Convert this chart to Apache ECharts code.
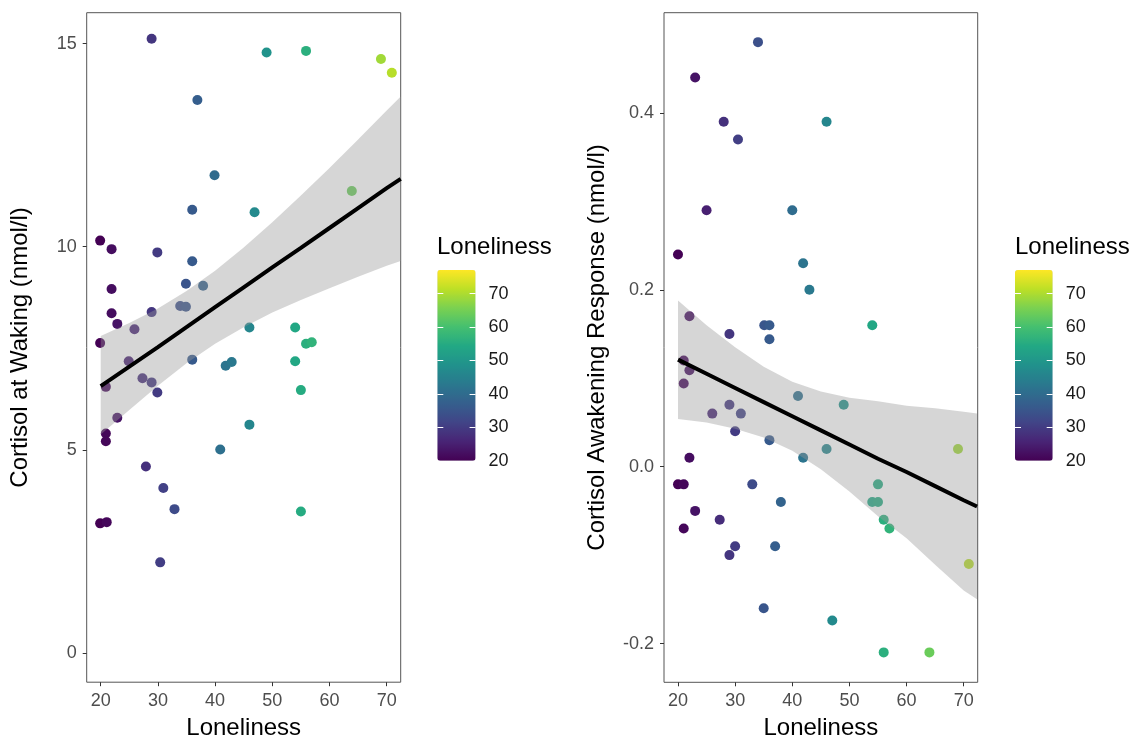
<!DOCTYPE html>
<html><head><meta charset="utf-8">
<script src="https://cdn.jsdelivr.net/npm/echarts@6/dist/echarts.min.js"></script>
<style>html,body{margin:0;padding:0;background:#fff}#c{width:1135px;height:739px}</style>
</head><body><div id="c"></div>
<script>
// ---- data ----
const leftX = [28.9,49,55.9,69,70.9,36.9,39.9,63.9,36,46.9,19.9,21.9,29.9,36,34.9,37.9,21.9,33.9,34.9,21.9,28.9,22.9,25.9,46,54,55.9,56.9,19.9,24.9,36,41.85,42.9,54,20.9,27.3,28.9,29.9,55,22.9,46,20.9,20.9,40.9,27.9,30.95,32.9,55,19.9,21.05,30.4];
const leftY = [15.12,14.78,14.82,14.62,14.28,13.61,11.76,11.37,10.91,10.85,10.15,9.94,9.86,9.64,9.09,9.04,8.96,8.54,8.52,8.36,8.39,8.10,7.97,8.01,8.01,7.61,7.65,7.63,7.18,7.22,7.07,7.16,7.18,6.55,6.76,6.66,6.41,6.47,5.79,5.62,5.40,5.21,5.01,4.59,4.06,3.54,3.48,3.19,3.22,2.23];
const rightX = [34,23,28,46,30.5,25,40,20,41.9,43,22,29,35.1,36,54,36,21,22,21,41,29,49,26,31,30,36,46,69,22,41.9,20,21,33,55,38,54,55,23,27.3,56,57,21,30,37,29,70.9,35,47,56,64];
const rightY = [0.48,0.44,0.39,0.39,0.37,0.29,0.29,0.24,0.23,0.20,0.17,0.15,0.16,0.16,0.16,0.144,0.12,0.109,0.094,0.08,0.07,0.07,0.06,0.06,0.04,0.03,0.02,0.02,0.01,0.01,-0.02,-0.02,-0.02,-0.02,-0.04,-0.04,-0.04,-0.05,-0.06,-0.06,-0.07,-0.07,-0.09,-0.09,-0.10,-0.11,-0.16,-0.174,-0.21,-0.21];

// smoother (fit + confidence band)
const bandLX    = [20,25,30,35,40,45,50,55,60,65,70,72.45];
const bandLFit  = [6.57,7.05,7.53,8.02,8.51,9.00,9.49,9.97,10.46,10.95,11.44,11.67];
const bandLLow  = [5.38,5.98,6.58,7.13,7.61,8.02,8.38,8.69,8.98,9.26,9.53,9.65];
const bandLHigh = [7.80,8.12,8.48,8.91,9.41,9.98,10.60,11.26,11.94,12.64,13.35,13.70];
const bandRX    = [20,25,30,35,40,45,50,55,60,65,70,72.33];
const bandRFit  = [0.121,0.105,0.089,0.073,0.057,0.041,0.025,0.009,-0.006,-0.022,-0.038,-0.045];
const bandRLow  = [0.054,0.050,0.043,0.033,0.018,-0.003,-0.028,-0.056,-0.081,-0.111,-0.140,-0.150];
const bandRHigh = [0.188,0.160,0.135,0.113,0.096,0.085,0.078,0.074,0.069,0.066,0.062,0.060];

const xTicks = [20,30,40,50,60,70];
const leftYTicks = [0,5,10,15];
const rightYTicks = [-0.2,0,0.2,0.4];
const legendTicks = [20,30,40,50,60,70];
const legendInnerTicks = [30,40,50,60,70];
const colorMin = 20, colorMax = 77.1;
const viridis = ['#440154','#482475','#414487','#355F8D','#2A788E','#21918C','#22A884','#44BF70','#7AD151','#BDDF26','#FDE725'];

// ---- chart ----
const FONT = '"Liberation Sans", Arial, Helvetica, sans-serif';
const pairs = (a,b) => a.map((v,i)=>[v,b[i]]);
const triples = (a,b,c) => a.map((v,i)=>[v,b[i],c[i]]);

function bandRender(rows){
  return function(params, api){
    if (params.dataIndex !== 0) return null;
    const pts = [];
    for (let i=0;i<rows.length;i++) pts.push(api.coord([rows[i][0], rows[i][2]]));
    for (let i=rows.length-1;i>=0;i--) pts.push(api.coord([rows[i][0], rows[i][1]]));
    return {type:'polygon', shape:{points:pts}, style:{fill:'rgba(153,153,153,0.4)'}};
  };
}

const tickLabel = {color:'#4D4D4D', fontSize:18, fontFamily:FONT};
const titleStyle = {fontSize:24, color:'#000', fontFamily:FONT};
function mainX(gi){
  return {type:'value', gridIndex:gi, min:17.55, max:72.45,
    name:'Loneliness', nameLocation:'middle', nameGap:34,
    nameTextStyle:titleStyle,
    axisLine:{show:false, onZero:false}, splitLine:{show:false},
    axisTick:{show:true, length:4, lineStyle:{color:'#333'}, customValues:xTicks},
    axisLabel:Object.assign({margin:10, customValues:xTicks}, tickLabel)};
}
function legendAxes(gi){
  return [
    {type:'value', gridIndex:gi, position:'right', min:colorMin, max:colorMax, z:10,
      axisLine:{show:false, onZero:false}, splitLine:{show:false},
      axisTick:{show:true, inside:true, length:6, lineStyle:{color:'#fff', width:1}, customValues:legendInnerTicks},
      axisLabel:{margin:13, customValues:legendTicks, color:'#1A1A1A', fontSize:18, fontFamily:FONT}},
    {type:'value', gridIndex:gi, position:'left', min:colorMin, max:colorMax, z:10,
      axisLine:{show:false, onZero:false}, splitLine:{show:false},
      axisTick:{show:true, inside:true, length:6, lineStyle:{color:'#fff', width:1}, customValues:legendInnerTicks},
      axisLabel:{show:false}}
  ];
}

const option = {
  animation:false,
  backgroundColor:'#fff',
  textStyle:{fontFamily:FONT},
  grid:[
    {left:86.7, top:12.7, width:314, height:669.5, show:true, borderColor:'#555', borderWidth:1, backgroundColor:'transparent', outerBoundsMode:'none', containLabel:false},
    {left:664, top:12.7, width:313.7, height:669.6, show:true, borderColor:'#555', borderWidth:1, backgroundColor:'transparent', outerBoundsMode:'none', containLabel:false},
    {left:437.3, top:270, width:38.3, height:190.7, outerBoundsMode:'none', containLabel:false},
    {left:1015, top:270, width:37.7, height:190.7, outerBoundsMode:'none', containLabel:false}
  ],
  xAxis:[
    mainX(0), mainX(1),
    {type:'value', gridIndex:2, show:false, min:0, max:1},
    {type:'value', gridIndex:3, show:false, min:0, max:1}
  ],
  yAxis:[
    {type:'value', gridIndex:0, min:-0.72, max:15.76,
      name:'Cortisol at Waking (nmol/l)', nameLocation:'middle', nameGap:54,
      nameTextStyle:titleStyle,
      axisLine:{show:false, onZero:false}, splitLine:{show:false},
      axisTick:{show:true, length:4, lineStyle:{color:'#333'}, customValues:leftYTicks},
      axisLabel:Object.assign({margin:10, customValues:leftYTicks}, tickLabel)},
    {type:'value', gridIndex:1, min:-0.2438, max:0.5133,
      name:'Cortisol Awakening Response (nmol/l)', nameLocation:'middle', nameGap:55,
      nameTextStyle:titleStyle,
      axisLine:{show:false, onZero:false}, splitLine:{show:false},
      axisTick:{show:true, length:4, lineStyle:{color:'#333'}, customValues:rightYTicks},
      axisLabel:Object.assign({margin:10, customValues:rightYTicks, formatter:v=>Number(v).toFixed(1)}, tickLabel)},
    ...legendAxes(2), ...legendAxes(3)
  ],
  visualMap:[
    {type:'continuous', seriesIndex:0, dimension:0, min:colorMin, max:colorMax, calculable:false,
      inRange:{color:viridis}, orient:'vertical', left:437.3, top:270, itemWidth:38.3, itemHeight:190.7,
      padding:0, text:null, showLabel:false},
    {type:'continuous', seriesIndex:3, dimension:0, min:colorMin, max:colorMax, calculable:false,
      inRange:{color:viridis}, orient:'vertical', left:1015, top:270, itemWidth:37.7, itemHeight:190.7,
      padding:0, text:null, showLabel:false}
  ],
  graphic:[
    {type:'text', left:437, top:235, style:{text:'Loneliness', fontSize:24, fill:'#000', fontFamily:FONT}},
    {type:'text', left:1015, top:235, style:{text:'Loneliness', fontSize:24, fill:'#000', fontFamily:FONT}}
  ],
  series:[
    {type:'scatter', xAxisIndex:0, yAxisIndex:0, symbolSize:10, itemStyle:{opacity:1}, data:pairs(leftX,leftY), z:2},
    {type:'custom', xAxisIndex:0, yAxisIndex:0, data:triples(bandLX,bandLLow,bandLHigh), renderItem:bandRender(triples(bandLX,bandLLow,bandLHigh)), encode:{x:0,y:[1,2]}, z:3, silent:true},
    {type:'line', xAxisIndex:0, yAxisIndex:0, data:pairs(bandLX,bandLFit), showSymbol:false, lineStyle:{color:'#000', width:4}, z:4, silent:true},
    {type:'scatter', xAxisIndex:1, yAxisIndex:1, symbolSize:10, itemStyle:{opacity:1}, data:pairs(rightX,rightY), z:2},
    {type:'custom', xAxisIndex:1, yAxisIndex:1, data:triples(bandRX,bandRLow,bandRHigh), renderItem:bandRender(triples(bandRX,bandRLow,bandRHigh)), encode:{x:0,y:[1,2]}, z:3, silent:true},
    {type:'line', xAxisIndex:1, yAxisIndex:1, data:pairs(bandRX,bandRFit), showSymbol:false, lineStyle:{color:'#000', width:4}, z:4, silent:true}
  ]
};
const chart = echarts.init(document.getElementById('c'), null, {renderer:'canvas'});
chart.setOption(option);
</script>
</body></html>
